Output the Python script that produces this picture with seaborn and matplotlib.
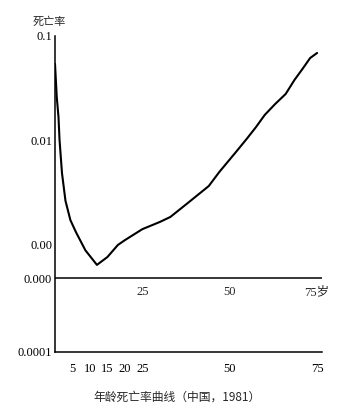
import numpy as np
import pandas as pd
import matplotlib
matplotlib.use("Agg")
import matplotlib.pyplot as plt
import seaborn as sns

# Age-specific mortality, China 1981
ages = [0, 0.5, 1, 1.3, 2, 3, 4.4, 6, 8.7, 12, 15, 18, 20, 25, 30, 33, 38,
        44, 47, 52, 55, 57.5, 60, 63, 66, 68.5, 71, 73, 75]
rates = [0.054, 0.026, 0.0166, 0.010, 0.0048, 0.0026, 0.0017, 0.0013, 0.00087,
         0.00063, 0.00075, 0.00098, 0.00109, 0.00139, 0.00163, 0.00182, 0.00248,
         0.00361, 0.00492, 0.00783, 0.0104, 0.0133, 0.0174, 0.0222, 0.0277,
         0.0377, 0.0492, 0.0614, 0.0687]

y_ticks = [0.1, 0.01, 0.001, 0.00047, 0.0000916]
y_labels = ["0.1", "0.01", "0.00", "0.000", "0.0001"]
x_ticks = [5, 10, 15, 20, 25, 50, 75]
mid_ticks = [25, 50, 75]
mid_labels = ["25", "50", "75岁"]

df = pd.DataFrame({"age": ages, "rate": rates})

sns.set_style("white")
plt.rcParams["font.family"] = ["Liberation Serif", "Noto Sans CJK SC"]

fig = plt.figure(figsize=(3.59, 4.13), dpi=100)
ax = fig.add_axes([55 / 359, 1 - 352 / 413, 267 / 359, (352 - 36) / 413])

sns.lineplot(data=df, x="age", y="rate", color="black", linewidth=1.5, ax=ax)

ax.set_yscale("log")
ax.set_ylim(y_ticks[-1], 0.1)
ax.set_xlim(0, 76.4)
ax.minorticks_off()
ax.set_yticks(y_ticks)
ax.set_yticklabels(y_labels)
ax.set_xticks(x_ticks)
ax.set_xticklabels([str(t) for t in x_ticks])
ax.tick_params(axis="both", length=0, labelsize=9, colors="black")
ax.tick_params(axis="x", pad=8)
ax.tick_params(axis="y", pad=2)
ax.set_xlabel("")
ax.set_ylabel("")

for side in ["top", "right"]:
    ax.spines[side].set_visible(False)
for side in ["left", "bottom"]:
    ax.spines[side].set_color("black")
    ax.spines[side].set_linewidth(1.1)

# second age axis drawn across the middle
ax.axhline(y_ticks[3], color="black", linewidth=1.1)
for t, lab in zip(mid_ticks, mid_labels):
    ax.annotate(lab, (t, y_ticks[3]), xytext=(0, -6), textcoords="offset points",
                ha="center", va="top", fontsize=9)

fig.text(33 / 359, 1 - 22 / 413, "死亡率", family="Noto Sans CJK SC",
         fontsize=8, ha="left", va="center")
fig.text(177 / 359, 1 - 397 / 413, "年龄死亡率曲线（中国，1981）",
         family="Noto Sans CJK SC", fontsize=8.5, ha="center", va="center")

fig.savefig("out.png", dpi=100, facecolor="white")
